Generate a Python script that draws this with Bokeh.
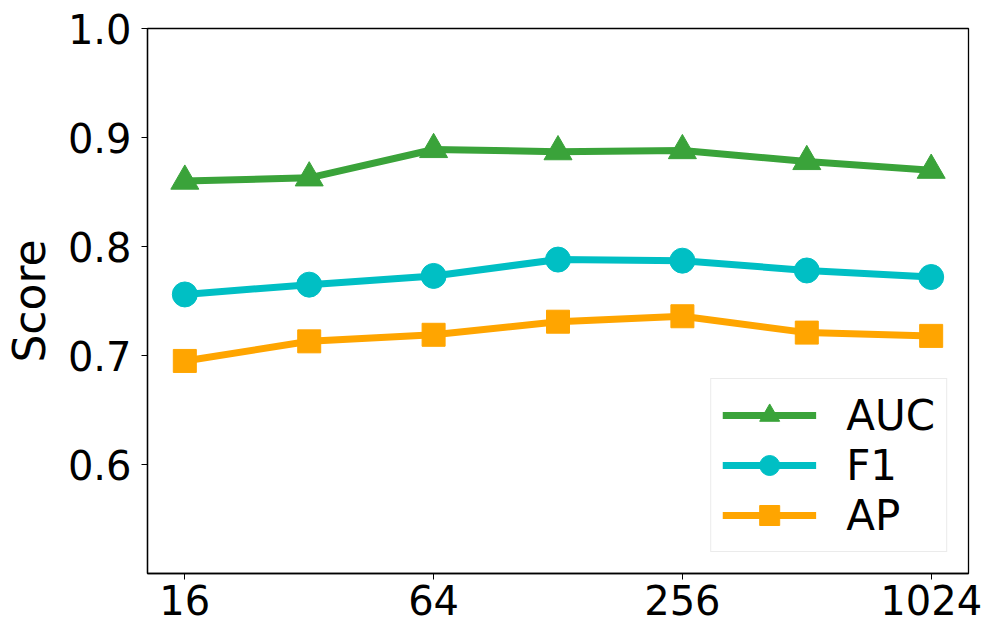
from bokeh.plotting import figure
from bokeh.models import Range1d, FixedTicker, Legend, LegendItem
from bokeh.embed import file_html
from bokeh.resources import INLINE

sizes = [16, 32, 64, 128, 256, 512, 1024]
auc = [0.860, 0.863, 0.889, 0.887, 0.888, 0.878, 0.870]
f1 = [0.756, 0.765, 0.773, 0.788, 0.787, 0.778, 0.772]
ap = [0.695, 0.713, 0.719, 0.731, 0.736, 0.721, 0.718]
x_ticks = [16, 64, 256, 1024]
y_ticks = [0.6, 0.7, 0.8, 0.9, 1.0]

FONT = "DejaVu Sans"
p = figure(width=989, height=630, x_axis_type="log",
           x_range=Range1d(2 ** 3.7, 2 ** 10.3), y_range=Range1d(0.5, 1.0),
           output_backend="svg", toolbar_location=None,
           min_border_left=145, min_border_right=21, min_border_top=28, min_border_bottom=57)
p.grid.visible = False
p.outline_line_color = "black"
p.outline_line_width = 1.3
p.background_fill_color = "white"

green = "#3aa33a"
cyan = "#00bfc4"
orange = "#ffa500"

r1 = p.line(sizes, auc, line_color=green, line_width=7)
m1 = p.scatter(sizes, auc, marker="triangle", size=28, fill_color=green, line_color=green)
r2 = p.line(sizes, f1, line_color=cyan, line_width=7)
m2 = p.scatter(sizes, f1, marker="circle", size=25, fill_color=cyan, line_color=cyan)
r3 = p.line(sizes, ap, line_color=orange, line_width=7)
m3 = p.scatter(sizes, ap, marker="square", size=23, fill_color=orange, line_color=orange)

for ax in (p.xaxis[0], p.yaxis[0]):
    ax.axis_line_color = "black"
    ax.axis_line_width = 1.3
    ax.major_tick_line_color = "black"
    ax.major_tick_out = 6
    ax.major_tick_in = 0
    ax.minor_tick_out = 0
    ax.minor_tick_in = 0
    ax.major_label_text_font = FONT
    ax.major_label_text_font_size = "40px"
    ax.major_label_text_color = "black"

p.xaxis.ticker = FixedTicker(ticks=x_ticks, minor_ticks=[])
p.xaxis.major_label_overrides = {t: str(t) for t in x_ticks}
p.xaxis.major_label_standoff = 5
p.yaxis.ticker = FixedTicker(ticks=y_ticks, minor_ticks=[])
p.yaxis.major_label_overrides = {t: f"{t:.1f}" for t in y_ticks}
p.yaxis.major_label_standoff = 10
p.yaxis.axis_label = "Score"
p.yaxis.axis_label_text_font = FONT
p.yaxis.axis_label_text_font_size = "44px"
p.yaxis.axis_label_text_font_style = "normal"
p.yaxis.axis_label_text_color = "black"
p.yaxis.axis_label_standoff = 10

legend = Legend(items=[
    LegendItem(label="AUC", renderers=[r1, m1]),
    LegendItem(label="F1", renderers=[r2, m2]),
    LegendItem(label="AP", renderers=[r3, m3]),
], location="bottom_right")
legend.label_text_font = FONT
legend.label_text_font_size = "42px"
legend.label_text_color = "black"
legend.glyph_width = 94
legend.glyph_height = 50
legend.label_height = 44
legend.label_standoff = 30
legend.spacing = 0
legend.padding = 11
legend.margin = 21
legend.border_line_color = "#d8d8d8"
legend.border_line_width = 1.5
legend.background_fill_alpha = 0.8
p.add_layout(legend)

open("out.html", "w").write(file_html(p, INLINE))
